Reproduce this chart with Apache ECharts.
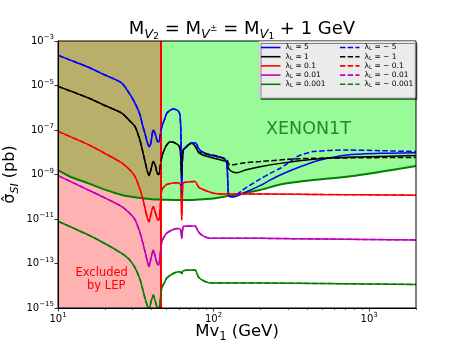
<!DOCTYPE html>
<html><head><meta charset="utf-8">
<script src="https://cdn.jsdelivr.net/npm/echarts@6/dist/echarts.min.js"></script>
<style>html,body{margin:0;padding:0;background:#fff}#c{width:463px;height:347px}</style>
</head><body><div id="c"></div><script>
const FONT = 'DejaVu Sans';

// ---- data (masses in GeV, sigma given as log10 of pb) ----
const massL5 = [10,12,15.7,20,25.7,29,31.3,33.6,35,36.2,37.5,38.5,39.5,40.5,41,42,43.5,44.5,45.5,46.5,48.8,50,52.5,55.1,57,59.4,60.9,61.8,62.4,63,63.9,67.3,70.6,76,78,79.8,84,92.6,102,115.7,121.6,124.5,128,134,160,199,231,268,360,485,719,1178,2000];
const logL5  = [-3.64,-3.86,-4.18,-4.53,-4.89,-5.4,-5.8,-6.3,-6.8,-7.15,-7.55,-7.75,-7.6,-7.1,-7.0,-7.15,-7.5,-7.53,-7.2,-6.85,-6.45,-6.25,-6.12,-6.06,-6.08,-6.15,-6.35,-7.5,-10.0,-8.3,-7.9,-7.75,-7.6,-7.57,-7.65,-7.82,-7.97,-8.1,-8.18,-8.27,-8.5,-9.85,-10.0,-10.0,-9.8,-9.5,-9.25,-9.02,-8.65,-8.35,-8.12,-8.05,-8.02];
const massLm5Tail = [124.5,128,134,150,165,200,231,268,300,343,436,719,1178,2000];
const logLm5Tail  = [-9.85,-10.0,-10.0,-9.75,-9.55,-9.2,-8.95,-8.72,-8.5,-8.2,-7.97,-7.9,-7.93,-7.97];

const massL1 = [10,15.7,20,25.7,29,31.3,33.6,35,36.2,37.5,38.5,39.5,41,42.2,43.5,44.5,45.5,46.5,48.8,50,52.5,55.1,57,59.4,60.9,61.8,62.4,63,63.9,67.3,70.6,72.4,76,79.8,84,92.6,102,115.7,121.6,124.5,128,134,141,160,199,268,436,719,2000];
const logL1  = [-5.04,-5.56,-5.9,-6.24,-6.6,-6.85,-7.45,-7.95,-8.4,-8.85,-9.05,-8.8,-8.42,-8.6,-8.95,-9.0,-8.6,-8.2,-7.8,-7.67,-7.53,-7.55,-7.6,-7.68,-7.85,-8.5,-9.1,-8.4,-7.9,-7.72,-7.62,-7.6,-7.72,-8.0,-8.1,-8.2,-8.28,-8.38,-8.42,-8.7,-8.82,-8.9,-8.92,-8.8,-8.65,-8.5,-8.32,-8.23,-8.15];
const massLm1Tail = [79.8,84,102,121.6,124.5,128,134,160,199,301,436,2000];
const logLm1Tail  = [-7.97,-8.04,-8.15,-8.33,-8.5,-8.57,-8.56,-8.47,-8.42,-8.32,-8.27,-8.23];

const massSmall = [10,15.7,20,25.7,29,31.3,33.6,35,36.2,37.5,38.5,39.5,41,42.2,43.5,44.5,45.5,46.5,48.8,50,55,59.4,61.5,62.4,63.3,64,70,76,79.8,84,92.6,102,121.6,200,500,2000];
const logL01   = [-7.06,-7.66,-8.05,-8.48,-8.8,-9.1,-9.65,-10.05,-10.5,-10.95,-11.12,-10.8,-10.44,-10.7,-11.0,-11.05,-10.4,-9.7,-9.5,-9.45,-9.38,-9.37,-9.5,-11.04,-9.5,-9.37,-9.33,-9.32,-9.55,-9.65,-9.77,-9.85,-9.88,-9.88,-9.9,-9.93];
const logL001  = [-9.05,-9.7,-10.05,-10.44,-10.75,-11.04,-11.6,-12.05,-12.45,-12.9,-13.14,-12.8,-12.39,-12.7,-13.02,-13.07,-12.5,-12.02,-11.72,-11.63,-11.47,-11.43,-11.5,-11.87,-11.45,-11.33,-11.31,-11.31,-11.57,-11.72,-11.85,-11.87,-11.87,-11.87,-11.9,-11.94];
const logL0001 = [-11.1,-11.72,-12.1,-12.55,-12.85,-13.2,-13.7,-14.15,-14.55,-14.9,-15.1,-14.75,-14.42,-14.7,-15.0,-15.05,-14.6,-14.1,-13.8,-13.65,-13.45,-13.37,-13.38,-13.45,-13.36,-13.32,-13.29,-13.29,-13.6,-13.74,-13.86,-13.88,-13.88,-13.88,-13.9,-13.94];

const massXe = [10,12,15.7,20,25.7,33,40,45.5,50,60,69,80,102,148,199,268,436,719,1178,2000];
const logXe  = [-8.8,-9.1,-9.4,-9.68,-9.92,-10.05,-10.11,-10.13,-10.14,-10.15,-10.15,-10.12,-10.07,-9.87,-9.7,-9.45,-9.25,-9.1,-8.88,-8.62];

const lepRange = [10, 45.5];           // LEP-excluded mass range (GeV)
const sigmaRange = [1e-15, 1e-3];      // y-axis range (pb)
const xTickMajor = [10,100,1000];
const xTickMinor = [20,30,40,50,60,70,80,90,200,300,400,500,600,700,800,900,2000];
const yTickMajor = [1e-15,1e-13,1e-11,1e-9,1e-7,1e-5,1e-3];
const legendNames = ['L5','L1','L01','L001','L0001'];
const legendNamesNeg = ['Lm5','Lm1','Lm01','Lm001','Lm0001'];
const legendValues = {L5:'5',L1:'1',L01:'0.1',L001:'0.01',L0001:'0.001',Lm5:'− 5',Lm1:'− 1',Lm01:'− 0.1',Lm001:'− 0.01',Lm0001:'− 0.001'};

function pairs(m, l){ return m.map((x,i)=>[x, Math.pow(10, l[i])]); }
function headTail(m, l, upTo, mt, lt){
  const out = [];
  m.forEach((x,i)=>{ if (x <= upTo) out.push([x, Math.pow(10,l[i])]); });
  return out.concat(pairs(mt, lt));
}

const dataL5 = pairs(massL5, logL5);
const dataLm5 = headTail(massL5, logL5, 121.6, massLm5Tail, logLm5Tail);
const dataL1 = pairs(massL1, logL1);
const dataLm1 = headTail(massL1, logL1, 76, massLm1Tail, logLm1Tail);
const dataL01 = pairs(massSmall, logL01);
const dataL001 = pairs(massSmall, logL001);
const dataL0001 = pairs(massSmall, logL0001);
const dataXe = pairs(massXe, logXe);
const dataLep = [[lepRange[0], sigmaRange[1]], [lepRange[1], sigmaRange[1]]];

const BLUE='#0000ff', BLACK='#000000', RED='#ff0000', MAG='#bf00bf', GRN='#008000';
const ICON_SOLID = 'path://M0,0h20v1.6h-20z';
const ICON_DASH = 'path://M0,0h5.5v1.6h-5.5zM7.9,0h5.5v1.6h-5.5zM15.8,0h4.2v1.6h-4.2z';
function curve(name, data, color, dashed, z){
  return {name, type:'line', data, symbol:'none', showSymbol:false, z, silent:true, smooth:0.25,
    legendIcon: dashed ? ICON_DASH : ICON_SOLID,
    lineStyle:{color, width:1.5, type: dashed ? [5.5,2.4] : 'solid'}, itemStyle:{color}};
}

function powLabel(v){
  const e = Math.round(Math.log10(v));
  return '{b|10}{s|' + (e<0 ? '−' : '') + Math.abs(e) + '}';
}
const tickRich = {
  b:{fontSize:10, fontFamily:FONT, color:'#000', lineHeight:14},
  s:{fontSize:7, fontFamily:FONT, color:'#000', lineHeight:6, verticalAlign:'top'}
};

const legendRich = {
  l:{fontSize:7.5, fontFamily:FONT, color:'#000', lineHeight:9},
  s:{fontSize:5.5, fontFamily:FONT, color:'#000', lineHeight:5, verticalAlign:'bottom'}
};
function legendFmt(name){ return '{l|λ}{s|L}{l| = ' + legendValues[name] + '}'; }
function mkLegend(names, left, icon){
  return {data:names.map(n=>({name:n, icon})), left, top:43.5, orient:'vertical', itemWidth:19.5, itemHeight:1.6, itemGap:0.7,
    selectedMode:false, formatter:legendFmt, padding:0, z:10,
    textStyle:{fontFamily:FONT, fontSize:7.5, rich:legendRich}};
}

const option = {
  animation:false,
  backgroundColor:'#fff',
  title:{
    text:'{t|M}{s|V}{ss|2}{t| = M}{s|V}{sp|±}{t| = M}{s|V}{ss|1}{t| + 1 GeV}',
    left:237, top:12, textAlign:'center',
    textStyle:{fontWeight:'normal', rich:{
      t:{fontSize:18, fontFamily:FONT, fontWeight:'normal', color:'#000', lineHeight:24},
      s:{fontSize:13, fontFamily:FONT, fontWeight:'normal', fontStyle:'italic', color:'#000', lineHeight:16, verticalAlign:'bottom'},
      ss:{fontSize:9, fontFamily:FONT, fontWeight:'normal', color:'#000', lineHeight:10, verticalAlign:'bottom'},
      sp:{fontSize:9, fontFamily:FONT, fontWeight:'normal', color:'#000', lineHeight:10}
    }}
  },
  grid:{left:58, right:47, top:41, bottom:39, outerBoundsMode:'none', containLabel:false,
        show:true, borderColor:'#000', borderWidth:1, backgroundColor:'transparent', z:8},
  legend:[mkLegend(legendNames, 261, ICON_SOLID), mkLegend(legendNamesNeg, 340, ICON_DASH)],
  xAxis:[
    {type:'log', logBase:10, min:10, max:2000, gridIndex:0,
     name:'{t|Mv}{s|1}{t| (GeV)}', nameLocation:'middle', nameGap:13, nameMoveOverlap:false,
     nameTextStyle:{rich:{
       t:{fontSize:16.5, fontFamily:FONT, color:'#000', lineHeight:22},
       s:{fontSize:11.5, fontFamily:FONT, color:'#000', lineHeight:12, verticalAlign:'bottom'}
     }},
     axisLine:{show:true, lineStyle:{color:'#000', width:1}},
     axisTick:{show:true, length:3.5, customValues:xTickMajor, lineStyle:{color:'#000', width:0.8}},
     axisLabel:{customValues:xTickMajor, formatter:powLabel, rich:tickRich, margin:4},
     splitLine:{show:false}, minorTick:{show:false}, z:9},
    {type:'log', logBase:10, min:10, max:2000, gridIndex:0, position:'bottom',
     axisLine:{show:false},
     axisTick:{show:true, length:2, customValues:xTickMinor, lineStyle:{color:'#000', width:0.6}},
     axisLabel:{show:false}, splitLine:{show:false}, z:9}
  ],
  yAxis:[
    {type:'log', logBase:10, min:sigmaRange[0], max:sigmaRange[1],
     name:'{t|σ̂}{s|SI}{t| (pb)}', nameLocation:'middle', nameGap:37, nameRotate:90, nameMoveOverlap:false,
     nameTextStyle:{rich:{
       t:{fontSize:16, fontFamily:FONT, color:'#000', lineHeight:22},
       s:{fontSize:11, fontFamily:FONT, fontStyle:'italic', color:'#000', lineHeight:12, verticalAlign:'bottom'}
     }},
     axisLine:{show:true, lineStyle:{color:'#000', width:1}},
     axisTick:{show:true, length:3.5, customValues:yTickMajor, lineStyle:{color:'#000', width:0.8}},
     axisLabel:{customValues:yTickMajor, formatter:powLabel, rich:tickRich, margin:4},
     splitLine:{show:false}, z:9}
  ],
  graphic:[
    {type:'rect', z:9, shape:{x:259, y:41.5, width:156, height:56},
     style:{fill:'#ebebeb', stroke:'#c8c8c8', lineWidth:1, shadowColor:'rgba(0,0,0,0.45)', shadowOffsetX:2, shadowOffsetY:2, shadowBlur:0}},
    {type:'text', z:7, x:266, y:129, style:{text:'XENON1T', fontFamily:FONT, fontSize:17.5, fill:'#1f8f1f', verticalAlign:'middle', align:'left'}},
    {type:'text', z:7, x:75.5, y:273, style:{text:'Excluded', fontFamily:FONT, fontSize:11.5, fill:'#ff0000', verticalAlign:'middle', align:'left'}},
    {type:'text', z:7, x:87, y:286.5, style:{text:'by LEP', fontFamily:FONT, fontSize:11.5, fill:'#ff0000', verticalAlign:'middle', align:'left'}}
  ],
  series:[
    {type:'line', data:dataXe, symbol:'none', z:1, silent:true, smooth:0.25,
     lineStyle:{width:0}, areaStyle:{color:'#98fb98', opacity:1, origin:'end'}},
    {type:'line', data:dataLep, symbol:'none', z:2, silent:true,
     lineStyle:{width:0}, areaStyle:{color:'#ff0000', opacity:0.3, origin:'start'}},
    {type:'line', data:dataXe, symbol:'none', z:3, silent:true, smooth:0.25, lineStyle:{color:GRN, width:2}},
    curve('L5', dataL5, BLUE, false, 4),
    curve('L1', dataL1, BLACK, false, 4),
    curve('L01', dataL01, RED, false, 4),
    curve('L001', dataL001, MAG, false, 4),
    curve('L0001', dataL0001, GRN, false, 4),
    curve('Lm5', dataLm5, BLUE, true, 5),
    curve('Lm1', dataLm1, BLACK, true, 5),
    curve('Lm01', dataL01, RED, true, 5),
    curve('Lm001', dataL001, MAG, true, 5),
    curve('Lm0001', dataL0001, GRN, true, 5),
    {type:'line', data:[], z:6, silent:true,
     markLine:{silent:true, symbol:['none','none'], label:{show:false},
       lineStyle:{color:RED, width:2, type:'solid'}, data:[{xAxis:lepRange[1]}]}}
  ]
};
const chart = echarts.init(document.getElementById('c'));
chart.setOption(option);
</script></body></html>
